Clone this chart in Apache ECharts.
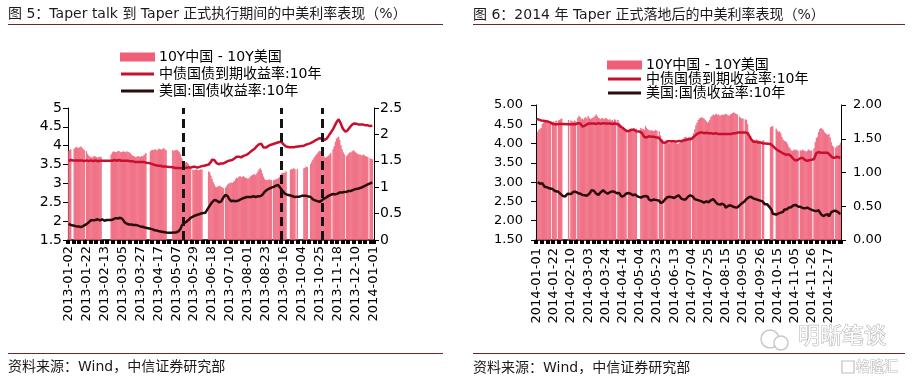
<!DOCTYPE html>
<html><head><meta charset="utf-8">
<script src="https://cdn.jsdelivr.net/npm/echarts/dist/echarts.min.js"></script>
<style>html,body{margin:0;padding:0;background:#fff}#c{width:916px;height:379px}</style>
</head><body><div id="c"></div>
<script>
// ---------- DATA ----------
const NAME_SP = '10Y中国 - 10Y美国';
const NAME_CN = '中债国债到期收益率:10年';
const NAME_US = '美国:国债收益率:10年';
const title1 = '图 5：Taper talk 到 Taper 正式执行期间的中美利率表现（%）';
const title2 = '图 6：2014 年 Taper 正式落地后的中美利率表现（%）';
const source = '资料来源：Wind，中信证券研究部';

// Chinese weekend make-up working days (included in the date axis)
const makeup2013 = ['2013-01-05','2013-01-06','2013-02-16','2013-02-17','2013-04-07','2013-04-27','2013-04-28','2013-06-08','2013-06-09','2013-09-22','2013-09-29','2013-10-12'];
const makeup2014 = ['2014-01-26','2014-02-08','2014-05-04','2014-09-28','2014-10-11'];
const taperDates = ['2013-05-15','2013-09-12','2013-10-29'];

const cn13 = [
3.60,3.61,3.62,3.62,3.61,3.60,3.61,3.62,3.61,3.60,
3.61,3.62,3.61,3.60,3.59,3.60,3.61,3.60,3.59,3.60,
3.61,3.60,3.59,3.60,3.61,3.60,3.59,3.59,3.60,3.61,
null,null,null,null,null,3.60,3.61,3.60,3.59,3.60,
3.61,3.62,3.61,3.60,3.61,3.62,3.61,3.60,3.61,3.60,
3.59,3.60,3.61,3.60,3.59,3.59,3.58,3.59,3.58,3.57,
3.58,3.57,3.58,3.57,3.56,3.57,3.56,3.57,3.56,3.55,
null,null,3.54,3.53,3.52,3.51,3.50,3.49,3.48,3.47,
3.47,3.46,3.47,3.46,3.45,3.46,3.45,3.45,3.44,3.44,
null,null,null,3.43,3.42,3.41,3.42,3.41,3.40,3.41,
3.40,3.40,3.41,3.40,3.41,3.42,3.41,3.42,3.43,3.42,
3.43,3.44,3.43,3.44,3.43,3.42,3.43,3.44,3.45,3.46,
3.46,3.47,null,null,null,3.50,3.53,3.57,3.63,3.68,
3.62,3.57,3.54,3.52,3.51,3.52,3.53,3.52,3.53,3.55,
3.56,3.58,3.59,3.60,3.61,3.60,3.62,3.64,3.66,3.69,
3.71,3.70,3.71,3.70,3.69,3.71,3.73,3.74,3.75,3.76,
3.78,3.80,3.83,3.86,3.88,3.90,3.92,3.95,3.99,4.02,
4.04,4.06,4.05,4.00,3.95,3.93,3.95,3.97,3.99,4.01,
4.02,4.03,4.04,4.05,4.06,4.07,4.08,4.09,4.10,4.11,
4.10,4.07,4.03,4.00,3.98,null,null,3.96,3.97,3.96,
3.97,3.96,3.97,3.97,3.98,null,null,null,null,null,
4.00,4.02,4.03,4.04,4.05,4.06,4.07,4.09,4.10,4.12,
4.14,4.16,4.17,4.19,4.20,4.21,4.19,4.16,4.15,4.15,
4.18,4.22,4.26,4.30,4.35,4.39,4.44,4.50,4.56,4.62,
4.67,4.70,4.66,4.58,4.50,4.44,4.40,4.37,4.38,4.41,
4.45,4.49,4.53,4.56,4.58,4.59,4.60,4.58,4.57,4.56,
4.57,4.56,4.55,4.56,4.55,4.54,4.55,4.54,4.53,4.52,
4.53,4.53,null];

const us13 = [
1.93,1.92,1.90,null,null,1.88,1.87,1.86,1.87,1.86,
1.85,1.84,1.85,1.87,1.89,null,1.92,1.95,1.97,1.99,
2.03,2.04,2.02,2.01,2.03,2.04,2.05,2.03,2.02,2.04,
2.05,2.03,2.01,2.02,2.03,null,null,null,2.03,2.04,
2.05,2.07,2.08,2.06,2.07,2.08,2.09,2.08,2.06,2.02,
1.97,1.94,1.93,1.92,1.91,1.90,1.91,1.89,1.90,1.91,
1.90,1.89,1.88,1.87,1.86,1.85,1.85,1.84,1.83,1.83,
1.82,1.81,null,1.80,1.79,1.78,1.77,1.76,1.76,1.75,
1.74,1.73,1.73,1.72,1.71,1.71,1.70,1.70,null,null,
1.69,1.70,1.69,1.70,1.70,1.69,1.70,1.71,1.73,1.76,
1.80,1.88,1.92,1.95,1.97,1.98,2.00,2.03,2.06,2.09,
null,2.12,2.14,2.15,2.16,2.17,2.18,2.19,2.20,2.21,
null,null,2.22,2.26,2.32,2.36,2.41,2.45,2.50,2.54,
2.56,2.58,2.55,2.52,2.50,2.49,2.52,2.55,2.62,null,
2.70,2.72,2.66,2.60,2.56,2.53,2.52,2.54,2.55,2.53,
2.52,2.54,2.56,2.57,2.59,2.60,2.61,2.62,2.63,2.64,
2.65,2.64,2.63,2.64,2.65,2.66,2.65,2.64,2.65,2.66,
2.65,2.66,2.67,2.70,2.74,2.78,2.81,2.83,2.84,2.86,
2.87,2.89,null,2.91,2.93,2.94,2.95,2.96,2.93,2.88,
2.84,2.80,2.76,2.73,2.71,2.70,2.69,null,2.68,2.67,
2.66,2.65,2.64,null,2.65,2.64,2.65,2.66,2.67,2.66,
2.67,2.66,2.67,2.68,null,null,2.64,2.61,2.58,2.56,
2.55,2.54,2.53,2.52,2.51,2.52,2.55,2.58,2.60,2.62,
2.63,2.65,2.67,2.69,2.70,null,2.72,2.73,2.71,2.72,
2.73,2.74,2.76,2.77,2.76,2.78,2.77,null,2.78,2.79,
2.80,2.81,2.80,2.82,2.83,2.84,2.85,2.84,2.86,2.87,
2.88,2.89,2.90,2.91,2.93,2.94,2.96,2.98,null,3.00,
3.02,3.03,null];

const sp13 = [
1.69,1.70,1.72,null,null,1.73,1.75,1.76,1.75,1.74,
1.76,1.77,1.75,1.72,1.70,null,1.68,1.63,1.60,1.58,
1.57,1.56,1.58,1.59,1.58,1.57,1.56,1.57,1.58,1.57,
null,null,null,null,null,null,null,null,1.62,1.66,
1.68,1.67,1.66,1.67,1.68,1.69,1.67,1.66,1.67,1.68,
1.67,1.66,1.68,1.67,1.66,1.65,1.62,1.60,1.59,1.58,
1.57,1.58,1.59,1.58,1.57,1.59,1.58,1.60,1.62,1.65,
null,null,null,1.68,1.70,1.71,1.70,1.72,1.71,1.70,
1.72,1.73,1.72,1.71,1.73,1.74,1.72,1.70,null,null,
null,null,null,1.70,1.69,1.70,1.71,1.70,1.68,1.66,
1.62,1.55,1.50,1.48,1.47,1.48,1.46,1.44,1.40,1.36,
null,1.33,1.32,1.33,1.34,1.33,1.32,1.33,1.34,1.33,
null,null,null,null,null,1.30,1.28,1.22,1.16,1.10,
1.05,1.01,1.00,1.01,1.02,1.03,1.01,1.00,0.98,null,
0.99,1.02,1.05,1.07,1.08,1.09,1.08,1.10,1.12,1.15,
1.18,1.17,1.20,1.21,1.19,1.20,1.21,1.19,1.18,1.17,
1.16,1.17,1.20,1.22,1.23,1.24,1.25,1.23,1.26,1.30,
1.34,1.36,1.32,1.26,1.20,1.15,1.14,1.13,1.14,1.15,
1.13,1.14,null,1.13,1.14,1.15,1.16,1.17,1.19,1.23,
1.26,1.27,1.27,1.28,1.30,null,null,null,1.33,1.34,
1.35,1.36,1.34,null,1.35,null,null,null,null,null,
1.36,1.37,1.39,1.38,null,null,1.44,1.48,1.52,1.56,
1.59,1.62,1.64,1.67,1.69,1.68,1.66,1.62,1.58,1.56,
1.57,1.58,1.60,1.62,1.65,null,1.72,1.78,1.86,1.92,
1.94,1.96,1.90,1.80,1.72,1.66,1.62,null,1.59,1.61,
1.64,1.66,1.66,1.68,1.70,1.68,1.66,1.65,1.63,1.62,
1.62,1.61,1.60,1.62,1.60,1.59,1.58,1.57,null,1.55,
1.54,1.53,null];

const cn14 = [
4.64,4.63,4.62,4.61,4.60,4.60,4.59,4.58,4.58,4.57,
4.57,4.56,4.55,4.53,4.51,4.50,4.50,4.51,4.50,4.51,
4.51,4.52,4.51,null,null,null,null,null,4.50,4.50,
4.50,4.49,4.50,4.51,4.50,4.52,4.53,4.54,4.52,4.47,
4.44,4.43,4.46,4.48,4.50,4.51,4.52,4.51,4.52,4.53,
4.52,4.52,4.51,4.52,4.53,4.52,4.51,4.52,4.53,4.52,
4.52,4.53,4.52,4.51,4.52,4.52,4.51,4.52,4.52,4.51,
null,4.50,4.47,4.44,4.42,4.41,4.39,4.36,4.33,4.32,
4.32,4.33,4.35,4.36,4.35,4.36,4.34,4.32,null,null,
4.31,4.30,4.27,4.22,4.17,4.15,4.16,4.18,4.19,4.19,
4.18,4.17,4.18,4.17,4.16,4.17,4.16,4.14,4.10,4.05,
4.03,null,4.02,4.04,4.06,4.05,4.06,4.07,4.06,4.05,
4.06,4.06,4.05,4.06,4.07,4.06,4.06,4.07,4.08,4.08,
4.09,4.10,4.11,4.10,4.11,4.12,4.14,4.17,4.20,4.23,
4.25,4.27,4.28,4.28,4.29,4.28,4.27,4.27,4.28,4.27,
4.27,4.26,4.27,4.26,4.25,4.26,4.27,4.26,4.25,4.26,
4.25,4.24,4.25,4.26,4.25,4.24,4.25,4.26,4.25,4.24,
4.25,4.26,4.27,4.28,4.27,4.28,4.29,4.28,4.29,4.30,
4.29,null,4.29,4.28,4.27,4.24,4.18,4.12,4.08,4.05,
4.04,4.05,4.04,4.03,4.04,4.03,4.02,4.01,4.00,null,
null,null,null,null,3.99,3.97,3.94,3.90,3.88,3.86,
3.83,3.81,3.80,3.78,3.76,3.74,3.73,3.72,3.71,3.72,
3.72,3.70,3.67,3.63,3.60,3.58,3.56,3.55,3.58,3.60,
3.62,3.63,3.63,3.61,3.58,3.56,3.55,3.55,3.57,3.58,
3.58,3.57,3.60,3.68,3.75,3.79,3.78,3.77,3.76,3.77,
3.76,3.77,3.76,3.75,3.76,3.74,3.70,3.66,3.64,3.63,
3.63,3.64,3.66,3.65,3.64,3.63];

const us14 = [
null,3.00,2.99,2.96,2.95,2.97,2.96,2.88,2.86,2.87,
2.86,2.84,2.84,null,2.82,2.79,2.77,2.73,null,2.75,
2.72,2.69,2.67,2.64,2.61,2.63,2.67,2.70,2.68,null,
2.69,2.73,2.75,2.74,2.75,null,2.72,2.73,2.70,2.68,
2.67,2.68,2.66,2.64,2.65,2.60,2.70,2.75,2.79,2.80,
2.78,2.73,2.70,2.67,2.67,2.70,2.74,2.77,2.79,2.78,
2.74,2.71,2.70,2.72,2.74,2.75,2.76,2.80,2.75,2.72,
2.71,2.69,2.72,2.67,2.63,2.65,2.64,2.68,2.70,null,
2.72,2.69,2.70,2.68,2.66,2.69,2.68,2.65,2.63,2.59,
null,2.60,2.62,2.63,2.61,2.64,2.66,2.62,2.55,2.54,
2.52,2.51,2.55,2.57,2.54,2.53,null,2.52,2.46,2.47,
2.48,2.51,2.55,2.59,2.61,2.60,2.62,2.64,2.61,2.60,
2.59,2.60,2.63,2.65,2.66,2.63,2.58,2.57,2.55,2.53,
2.55,2.56,2.62,2.64,2.66,null,2.63,2.60,2.56,2.55,
2.54,2.51,2.52,2.53,2.50,2.48,2.47,2.47,2.50,2.47,
2.48,2.50,2.53,2.58,2.56,2.54,2.49,2.47,2.43,2.42,
2.42,2.45,2.44,2.42,2.40,2.34,2.33,2.38,2.40,2.40,
2.39,2.37,2.38,2.35,2.36,2.34,null,2.40,2.41,2.45,
2.46,2.49,2.54,2.56,2.60,2.61,2.64,2.62,2.57,2.58,
2.57,2.56,2.53,2.54,2.56,2.52,null,2.50,2.48,2.43,
2.40,2.43,2.43,2.36,2.33,2.28,2.18,null,null,2.16,
2.18,2.19,2.20,2.21,2.24,2.23,2.29,2.27,2.29,2.32,
2.34,2.33,2.35,2.40,2.40,2.39,2.41,2.38,2.37,null,
2.36,2.35,2.33,2.34,2.32,2.31,2.34,2.33,2.31,2.30,
2.28,null,2.26,2.24,2.25,2.28,2.27,2.22,2.17,2.15,
2.12,2.10,2.15,2.14,2.17,2.11,2.15,2.22,2.23,2.25,
null,2.26,2.25,2.22,2.20,2.17];

const sp14 = [
null,1.60,1.63,1.65,1.66,1.72,1.74,1.75,1.76,1.74,
1.75,1.76,1.74,null,1.75,1.76,1.74,1.77,null,1.77,
1.78,1.79,1.80,null,null,null,null,null,1.78,null,
1.77,1.76,1.75,1.77,1.76,null,1.81,1.84,1.82,1.79,
1.80,1.78,1.81,1.82,1.80,1.84,1.81,1.79,1.80,1.81,
1.82,1.84,1.86,1.83,1.81,1.80,1.79,1.81,1.80,1.79,
1.81,1.80,1.79,1.78,1.79,1.77,1.78,1.76,1.79,1.78,
null,1.78,1.74,1.72,1.70,1.65,1.64,1.63,1.64,null,
1.62,1.64,1.65,1.63,1.64,1.66,1.64,1.65,null,null,
null,1.66,1.65,1.64,1.63,1.69,1.66,1.64,1.63,1.62,
1.63,1.62,1.61,1.62,1.63,1.62,null,1.61,1.55,1.50,
1.49,null,1.46,1.44,1.45,1.44,1.43,1.44,1.45,1.44,
1.45,1.44,1.43,1.42,1.43,1.44,1.46,1.48,1.50,1.52,
1.53,1.52,1.51,1.53,1.52,null,1.54,1.58,1.64,1.70,
1.74,1.78,1.80,1.81,1.82,1.81,1.80,1.78,1.76,1.74,
1.75,1.78,1.82,1.84,1.86,1.85,1.86,1.87,1.85,1.86,
1.84,1.85,1.86,1.85,1.86,1.87,1.86,1.85,1.84,1.86,
1.87,1.88,1.89,1.88,1.87,1.86,null,1.83,1.81,1.80,
1.80,null,1.79,1.78,1.72,1.60,1.53,1.50,1.48,1.47,
1.48,1.47,1.49,1.48,1.47,1.46,null,1.47,1.48,null,
null,null,null,null,1.67,1.68,1.69,null,null,1.65,
1.62,1.60,1.61,1.58,1.53,1.49,1.47,1.46,1.45,1.42,
1.38,1.36,1.33,1.32,1.33,1.34,1.33,1.34,1.32,null,
1.33,1.32,1.34,1.33,1.32,1.31,1.32,1.34,1.33,1.32,
1.33,null,1.36,1.45,1.51,1.53,1.60,1.64,1.66,1.65,
1.63,1.60,1.58,1.57,1.56,1.57,1.52,1.45,1.40,1.38,
null,1.37,1.39,1.40,1.41,1.44];

// ---------- CATEGORY AXIS (trading dates) ----------
function buildDates(startISO, endISO, makeup) {
  const out = [];
  let t = Date.parse(startISO + 'T00:00:00Z');
  const end = Date.parse(endISO + 'T00:00:00Z');
  while (t <= end) {
    const d = new Date(t);
    const s = d.toISOString().slice(0, 10);
    const wd = d.getUTCDay();
    if ((wd !== 0 && wd !== 6) || makeup.indexOf(s) >= 0) out.push(s);
    t += 86400000;
  }
  return out;
}
const dates13 = buildDates('2013-01-02', '2014-01-01', makeup2013);
const dates14 = buildDates('2014-01-01', '2014-12-31', makeup2014);

// ---------- CHART ----------
const FONT = '"DejaVu Sans", "Noto Sans CJK SC", sans-serif';
const C_BAR = '#ef5f76', C_CN = '#c8102e', C_US = '#2b0c0c';

function makeX(gi, data, interval, margin) {
  return {
    type: 'category', gridIndex: gi, data: data, boundaryGap: true,
    axisLine: { show: true, lineStyle: { color: '#000', width: 1.5 } },
    axisTick: { show: true, interval: 4, length: 4, lineStyle: { color: '#000', width: 4 } },
    axisLabel: { interval: interval, rotate: 90, margin: margin, fontSize: 13, fontFamily: FONT, color: '#000' },
    splitLine: { show: false }
  };
}
function makeY(gi, pos, min, max, step, fs, margin, fmt) {
  return {
    type: 'value', gridIndex: gi, position: pos, min: min, max: max, interval: step,
    axisLine: { show: true, lineStyle: { color: '#000', width: 1 } },
    axisTick: { show: true, length: 5, lineStyle: { color: '#000' } },
    axisLabel: { fontSize: fs, fontFamily: FONT, color: '#000', margin: margin, formatter: fmt },
    splitLine: { show: false }
  };
}
const f2 = v => v.toFixed(2);

function legend(left, top, gap) {
  return {
    orient: 'vertical', left: left, top: top, itemGap: gap, itemWidth: 33, itemHeight: 14,
    selectedMode: false,
    textStyle: { fontSize: 14, fontFamily: FONT, color: '#000', lineHeight: 14 },
    data: [
      { name: NAME_SP, icon: 'path://M0,0h33v7h-33z' },
      { name: NAME_CN, icon: 'path://M0,0h33v3h-33z' },
      { name: NAME_US, icon: 'path://M0,0h33v3h-33z' }
    ]
  };
}
function lineS(name, xi, yi, data, color, extra) {
  return Object.assign({
    type: 'line', name: name, xAxisIndex: xi, yAxisIndex: yi, data: data,
    symbol: 'none', showSymbol: false, connectNulls: true,
    lineStyle: { color: color, width: 2.5 }, itemStyle: { color: color }, z: 3
  }, extra || {});
}
function barS(xi, yi, data) {
  return {
    type: 'bar', name: NAME_SP, xAxisIndex: xi, yAxisIndex: yi, data: data,
    itemStyle: { color: C_BAR, borderColor: C_BAR, borderWidth: 0.5 },
    barCategoryGap: '0%', z: 1
  };
}

const chart = echarts.init(document.getElementById('c'), null, { renderer: 'canvas' });
chart.setOption({
  animation: false,
  backgroundColor: '#fff',
  grid: [
    { left: 68, right: 542, top: 108, bottom: 139 },
    { left: 536, right: 75, top: 105, bottom: 139 }
  ],
  legend: [legend(115, 45, 3), legend(602, 53, 0)],
  xAxis: [makeX(0, dates13, 15, 6), makeX(1, dates14, 14, 8)],
  yAxis: [
    makeY(0, 'left', 1.5, 5, 0.5, 14, 6),
    makeY(0, 'right', 0, 2.5, 0.5, 14, 6),
    makeY(1, 'left', 1.5, 5, 0.5, 13, 13, f2),
    makeY(1, 'right', 0, 2, 0.5, 13, 12, f2)
  ],
  series: [
    barS(0, 1, sp13),
    lineS(NAME_CN, 0, 0, cn13, C_CN),
    lineS(NAME_US, 0, 0, us13, C_US, {
      markLine: {
        silent: true, symbol: ['none', 'none'], label: { show: false },
        lineStyle: { color: '#141414', width: 3, type: [9, 5] },
        data: taperDates.map(d => ({ xAxis: d }))
      }
    }),
    barS(1, 3, sp14),
    lineS(NAME_CN, 1, 2, cn14, C_CN),
    lineS(NAME_US, 1, 2, us14, C_US)
  ],
  graphic: [
    { type: 'text', x: 8, y: 14, style: { text: title1, fontSize: 14, fontFamily: FONT, fill: '#1a1a1a', verticalAlign: 'middle' } },
    { type: 'line', shape: { x1: 8, y1: 24.5, x2: 443, y2: 24.5 }, style: { stroke: '#6b2a2a', lineWidth: 1 } },
    { type: 'text', x: 473, y: 15, style: { text: title2, fontSize: 14, fontFamily: FONT, fill: '#1a1a1a', verticalAlign: 'middle' } },
    { type: 'line', shape: { x1: 473, y1: 24.5, x2: 905, y2: 24.5 }, style: { stroke: '#6b2a2a', lineWidth: 1 } },
    { type: 'line', shape: { x1: 8, y1: 353.5, x2: 443, y2: 353.5 }, style: { stroke: '#6b2a2a', lineWidth: 1 } },
    { type: 'text', x: 8, y: 367, style: { text: source, fontSize: 14, fontFamily: FONT, fill: '#1a1a1a', verticalAlign: 'middle' } },
    { type: 'line', shape: { x1: 473, y1: 353.5, x2: 905, y2: 353.5 }, style: { stroke: '#6b2a2a', lineWidth: 1 } },
    { type: 'text', x: 473, y: 368, style: { text: source, fontSize: 14, fontFamily: FONT, fill: '#1a1a1a', verticalAlign: 'middle' } },
    { type: 'circle', shape: { cx: 770, cy: 339, r: 9 }, style: { fill: 'none', stroke: '#c8c8c8', lineWidth: 1.5 } },
    { type: 'circle', shape: { cx: 781, cy: 343, r: 7 }, style: { fill: '#fff', stroke: '#c8c8c8', lineWidth: 1.5 } },
    { type: 'text', x: 798, y: 337, style: { text: '明晰笔谈', fontSize: 22, fontFamily: FONT, fill: '#fff', stroke: '#b8b8b8', lineWidth: 1.2, verticalAlign: 'middle' } },
    { type: 'rect', shape: { x: 842, y: 361, width: 12, height: 12 }, style: { fill: 'none', stroke: '#c0c0c0', lineWidth: 1.2 } },
    { type: 'text', x: 856, y: 367, style: { text: '格隆汇', fontSize: 14, fontFamily: FONT, fill: '#fff', stroke: '#b8b8b8', lineWidth: 1, verticalAlign: 'middle' } }
  ]
});
</script>
</body></html>
